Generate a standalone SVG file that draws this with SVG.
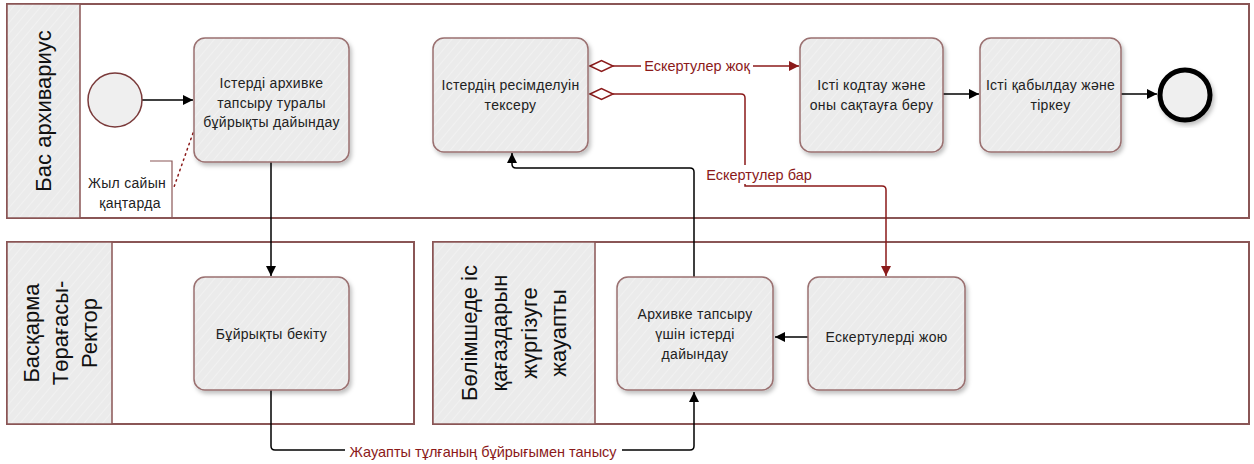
<svg xmlns="http://www.w3.org/2000/svg" width="1254" height="464" viewBox="0 0 1254 464">
<defs>
<pattern id="hatch" patternUnits="userSpaceOnUse" width="7" height="7" patternTransform="rotate(40)">
<rect width="7" height="7" fill="#ebebeb"/>
<line x1="0" y1="0" x2="0" y2="7" stroke="#f4f4f4" stroke-width="1.5"/>
</pattern>
<filter id="sh" x="-10%" y="-10%" width="125%" height="125%">
<feDropShadow dx="2" dy="3" stdDeviation="2" flood-color="#000" flood-opacity="0.25"/>
</filter>
<marker id="ab" viewBox="0 0 10 10" refX="10" refY="5" markerWidth="10" markerHeight="10" markerUnits="userSpaceOnUse" orient="auto">
<path d="M0,0 L10,5 L0,10 z" fill="#000"/>
</marker>
<marker id="ar" viewBox="0 0 10 10" refX="10" refY="5" markerWidth="10" markerHeight="10" markerUnits="userSpaceOnUse" orient="auto">
<path d="M0,0 L10,5 L0,10 z" fill="#8b1a1a"/>
</marker>
<style>
.lane{fill:#fff;stroke:#8a5656;stroke-width:2}
.hdr{fill:url(#hatch);stroke:#8a5656;stroke-width:1.5}
.task{fill:url(#hatch);stroke:#9a7070;stroke-width:1.5;filter:url(#sh)}
.t{font-family:"Liberation Sans",Arial,sans-serif;font-size:14px;fill:#222;text-anchor:middle;letter-spacing:0.3px}
.lt{font-family:"Liberation Sans",Arial,sans-serif;font-size:22px;fill:#111;text-anchor:middle}
.rl{font-family:"Liberation Sans",Arial,sans-serif;font-size:14.5px;fill:#8b1a1a;text-anchor:middle}
.seq{fill:none;stroke:#000;stroke-width:1.5}
.cond{fill:none;stroke:#8b1a1a;stroke-width:1.5}
</style>
</defs>

<g id="lane-bas-arkhivarius">
<rect class="lane" x="7" y="4" width="1242" height="214"/>
<rect class="hdr" x="7" y="4" width="73" height="214"/>
<text class="lt" transform="translate(43,111) rotate(-90)" dy="0.36em">Бас архивариус</text>
</g>
<g id="lane-rektor">
<rect class="lane" x="7" y="242" width="407" height="182"/>
<rect class="hdr" x="7" y="242" width="105" height="182"/>
<text class="lt" transform="translate(31,333) rotate(-90)" dy="0.36em">Басқарма</text>
<text class="lt" transform="translate(60,333) rotate(-90)" dy="0.36em">Төрағасы-</text>
<text class="lt" transform="translate(89,333) rotate(-90)" dy="0.36em">Ректор</text>
</g>
<g id="lane-zhauapty">
<rect class="lane" x="433" y="242" width="816" height="182"/>
<rect class="hdr" x="433" y="242" width="162" height="182"/>
<text class="lt" transform="translate(469,333) rotate(-90)" dy="0.36em">Бөлімшеде іс</text>
<text class="lt" transform="translate(499,333) rotate(-90)" dy="0.36em">қағаздарын</text>
<text class="lt" transform="translate(529,333) rotate(-90)" dy="0.36em">жүргізуге</text>
<text class="lt" transform="translate(558,333) rotate(-90)" dy="0.36em">жауапты</text>
</g>

<g id="connectors">
<line class="seq" x1="142" y1="100" x2="193" y2="100" marker-end="url(#ab)"/>
<line class="seq" x1="271" y1="162" x2="271" y2="276" marker-end="url(#ab)"/>
<path class="seq" d="M271,390 V446 Q271,450 275,450 H690 Q694,450 694,446 V392" marker-end="url(#ab)"/>
<path class="seq" d="M694,277 V172 Q694,168 690,168 H516 Q512,168 512,164 V153" marker-end="url(#ab)"/>
<line class="seq" x1="808" y1="337" x2="775" y2="337" marker-end="url(#ab)"/>
<line class="seq" x1="943" y1="94" x2="979" y2="94" marker-end="url(#ab)"/>
<line class="seq" x1="1121" y1="94" x2="1157" y2="94" marker-end="url(#ab)"/>
<path class="cond" d="M590,66 L601.5,60.5 L613,66 L601.5,71.5 Z" fill="#fff"/>
<line class="cond" x1="613" y1="66" x2="799" y2="66" marker-end="url(#ar)"/>
<path class="cond" d="M590,94 L601.5,88.5 L613,94 L601.5,99.5 Z" fill="#fff"/>
<path class="cond" d="M613,94 H741 Q745,94 745,98 V186 H882 Q886,186 886,190 V276" marker-end="url(#ar)"/>
<line x1="193" y1="133" x2="174" y2="187" stroke="#8b1a1a" stroke-width="1.5" stroke-dasharray="1.5,4" stroke-linecap="round"/>
<rect x="641" y="58" width="112" height="17" fill="#fff"/>
<text class="rl" x="697" y="71">Ескертулер жоқ</text>
<rect x="705" y="165" width="109" height="19" fill="#fff"/>
<text class="rl" x="759" y="180">Ескертулер бар</text>
<rect x="345" y="442" width="277" height="18" fill="#fff"/>
<text class="rl" x="483" y="457">Жауапты тұлғаның бұйрығымен танысу</text>
</g>

<g id="start">
<circle cx="115" cy="100" r="27" fill="#efefef" stroke="#7a3a3a" stroke-width="1.5"/>
</g>
<g id="note">
<path d="M150,161 H172 V217" fill="none" stroke="#8a5656" stroke-width="1.2"/>
<text class="t" x="127" y="188">Жыл сайын</text>
<text class="t" x="130" y="208">қаңтарда</text>
</g>
<g id="task-dayindau">
<rect class="task" x="194" y="38" width="155" height="124" rx="11"/>
<text class="t" x="271.5" y="88">Істерді архивке</text>
<text class="t" x="271.5" y="108">тапсыру туралы</text>
<text class="t" x="271.5" y="127">бұйрықты дайындау</text>
</g>
<g id="task-tekseru">
<rect class="task" x="433" y="38" width="155" height="114" rx="11"/>
<text class="t" x="510.5" y="90">Істердің ресімделуін</text>
<text class="t" x="510.5" y="110">тексеру</text>
</g>
<g id="task-kodtau">
<rect class="task" x="800" y="38" width="143" height="114" rx="11"/>
<text class="t" x="871.5" y="90">Істі кодтау және</text>
<text class="t" x="871.5" y="110">оны сақтауға беру</text>
</g>
<g id="task-qabyldau">
<rect class="task" x="980" y="38" width="141" height="114" rx="11"/>
<text class="t" x="1050.5" y="90">Істі қабылдау және</text>
<text class="t" x="1050.5" y="110">тіркеу</text>
</g>
<g id="end">
<circle cx="1185" cy="95" r="25" fill="#efefef" stroke="#000" stroke-width="5" filter="url(#sh)"/>
</g>
<g id="task-bekitu">
<rect class="task" x="194" y="277" width="155" height="113" rx="11"/>
<text class="t" x="271.5" y="339">Бұйрықты бекіту</text>
</g>
<g id="task-arkhivke">
<rect class="task" x="617" y="277" width="156" height="113" rx="11"/>
<text class="t" x="695" y="319">Архивке тапсыру</text>
<text class="t" x="695" y="339">үшін істерді</text>
<text class="t" x="695" y="359">дайындау</text>
</g>
<g id="task-zhoyu">
<rect class="task" x="808" y="277" width="157" height="113" rx="11"/>
<text class="t" x="886.5" y="342">Ескертулерді жою</text>
</g>
</svg>
